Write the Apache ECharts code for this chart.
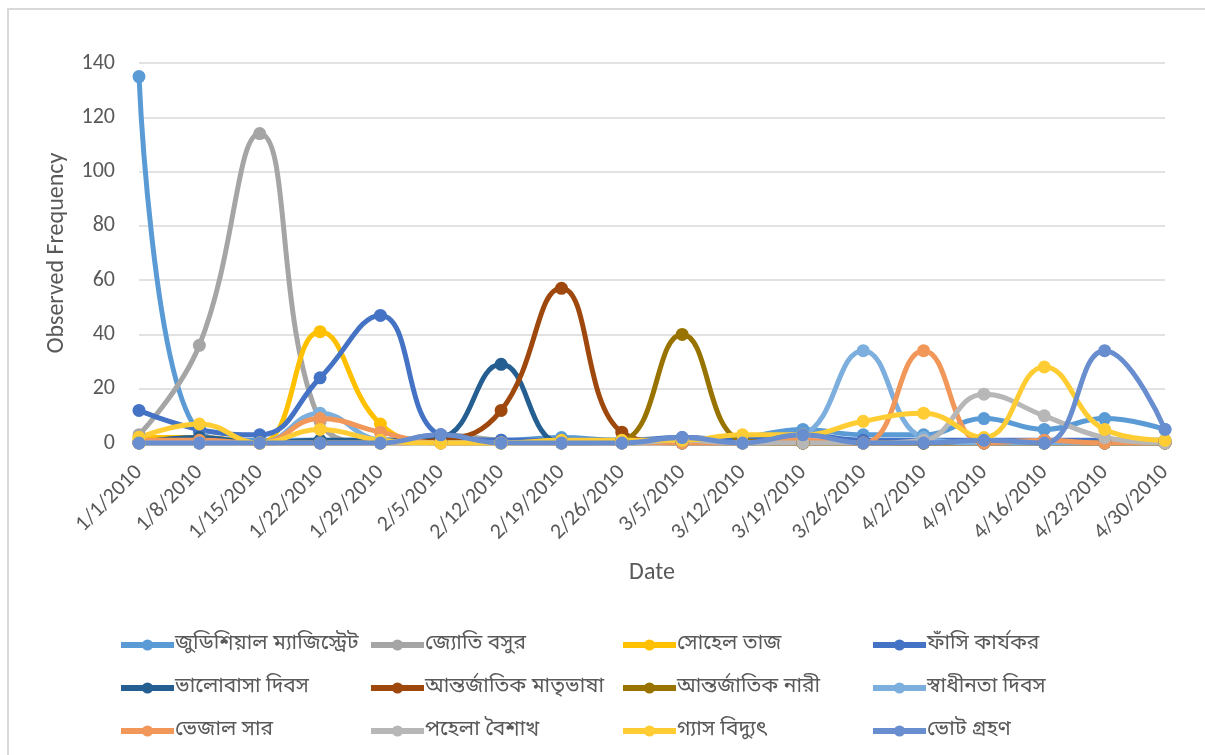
<!DOCTYPE html>
<html>
<head>
<meta charset="utf-8">
<script src="https://cdn.jsdelivr.net/npm/echarts@6/dist/echarts.min.js"></script>
<style>
    html, body { margin: 0; padding: 0; background: #fff; }
    #chart { width: 1205px; height: 755px; }
</style>
</head>
<body>
<div id="chart"></div>
<script>
const dates = ['1/1/2010', '1/8/2010', '1/15/2010', '1/22/2010', '1/29/2010', '2/5/2010', '2/12/2010', '2/19/2010', '2/26/2010',
    '3/5/2010', '3/12/2010', '3/19/2010', '3/26/2010', '4/2/2010', '4/9/2010', '4/16/2010', '4/23/2010', '4/30/2010']

const judicial = [135, 4, 1, 1, 1, 2, 1, 2, 1, 1, 2, 5, 3, 3, 9, 5, 9, 5]
const jyoti = [3, 36, 114, 8, 0, 3, 1, 0, 0, 1, 0, 0, 0, 0, 0, 0, 0, 0]
const sohel = [2, 2, 0, 41, 7, 0, 0, 0, 0, 0, 0, 0, 0, 0, 0, 0, 0, 0]
const fashi = [12, 5, 3, 24, 47, 3, 1, 1, 1, 2, 1, 3, 1, 1, 1, 1, 1, 1]
const valobasa = [0, 2, 0, 1, 1, 2, 29, 0, 0, 0, 0, 0, 0, 0, 0, 0, 0, 0]
const matribhasha = [0, 0, 0, 0, 0, 1, 12, 57, 4, 0, 0, 0, 0, 0, 0, 0, 0, 0]
const nari = [0, 0, 0, 0, 0, 0, 0, 0, 1, 40, 1, 0, 0, 0, 0, 0, 0, 0]
const swadhinota = [0, 0, 0, 11, 1, 0, 0, 0, 0, 0, 0, 3, 34, 2, 0, 0, 0, 0]
const vejal = [1, 1, 0, 9, 4, 0, 0, 0, 0, 0, 0, 1, 0, 34, 0, 1, 0, 0]
const pohela = [0, 0, 0, 0, 0, 0, 0, 0, 0, 1, 0, 0, 0, 1, 18, 10, 2, 0]
const gas = [2, 7, 0, 5, 1, 0, 0, 1, 1, 1, 3, 3, 8, 11, 2, 28, 5, 1]
const vote = [0, 0, 0, 0, 0, 3, 0, 0, 0, 2, 0, 3, 0, 0, 1, 0, 34, 5]

const yTicks = [0, 20, 40, 60, 80, 100, 120, 140]

const seriesNames = ['জুডিশিয়াল ম্যাজিস্ট্রেট', 'জ্যোতি বসুর', 'সোহেল তাজ', 'ফাঁসি কার্যকর',
    'ভালোবাসা দিবস', 'আন্তর্জাতিক মাতৃভাষা', 'আন্তর্জাতিক নারী', 'স্বাধীনতা দিবস',
    'ভেজাল সার', 'পহেলা বৈশাখ', 'গ্যাস বিদ্যুৎ', 'ভোট গ্রহণ']
const seriesData = [judicial, jyoti, sohel, fashi, valobasa, matribhasha, nari, swadhinota, vejal, pohela, gas, vote]
const colors = ['#5B9BD5', '#A5A5A5', '#FFC000', '#4472C4', '#255E91', '#9E480E',
    '#997300', '#7CAFDD', '#F1975A', '#B7B7B7', '#FFCD33', '#698ED0']

const textColor = '#595959'
const latin = 'Calibri, Carlito, "Liberation Sans", "Open Sans", sans-serif'
const bangla = '"Noto Sans Bengali", "Lohit Bengali", Vrinda, "Noto Sans", sans-serif'

let myChart = echarts.init(document.getElementById('chart'))

let series = seriesNames.map((name, i) => ({
    name,
    type: 'line',
    data: seriesData[i],
    smooth: 0.45,
    symbol: 'circle',
    symbolSize: 13,
    lineStyle: { width: 5, color: colors[i] },
    itemStyle: { color: colors[i] },
    emphasis: { disabled: true }
}))

// legend: 4 columns, 3 rows
const colLeft = [113, 363, 615, 865]
let legends = colLeft.map((left, c) => ({
    orient: 'vertical',
    left,
    top: 628,
    itemWidth: 53,
    itemHeight: 14,
    itemGap: 19,
    lineStyle: { width: 6 },
    data: [seriesNames[c], seriesNames[c + 4], seriesNames[c + 8]],
    textStyle: { color: textColor, fontSize: 21, lineHeight: 24, fontFamily: bangla, padding: [0, 0, 0, -4] }
}))

let option = {
    animation: false,
    color: colors,
    graphic: [{
        type: 'rect',
        shape: { x: 8, y: 9, width: 1210, height: 760 },
        style: { fill: 'none', stroke: '#D9D9D9', lineWidth: 2 },
        silent: true
    }],
    grid: { left: 139, right: 40, top: 63, bottom: 312 },
    xAxis: {
        type: 'category',
        data: dates,
        boundaryGap: false,
        name: 'Date',
        nameLocation: 'middle',
        nameGap: 118,
        nameTextStyle: { color: textColor, fontSize: 24, fontFamily: latin },
        axisLine: { show: true, lineStyle: { color: '#D9D9D9', width: 1.5 } },
        axisTick: { show: false },
        axisLabel: { color: textColor, fontSize: 22, fontFamily: latin, rotate: 45, margin: 26, interval: 0 }
    },
    yAxis: {
        type: 'value',
        min: yTicks[0],
        max: yTicks[yTicks.length - 1],
        interval: 20,
        name: 'Observed Frequency',
        nameLocation: 'middle',
        nameRotate: 90,
        nameGap: 70,
        nameTextStyle: { color: textColor, fontSize: 24, fontFamily: latin },
        axisLine: { show: false },
        axisTick: { show: false },
        axisLabel: { color: textColor, fontSize: 22, fontFamily: latin, margin: 24 },
        splitLine: { show: true, lineStyle: { color: '#D9D9D9', width: 1.5 } }
    },
    legend: legends,
    series
}

myChart.setOption(option, true)
window.addEventListener('resize', () => {
    myChart.resize()
})
</script>
</body>
</html>
